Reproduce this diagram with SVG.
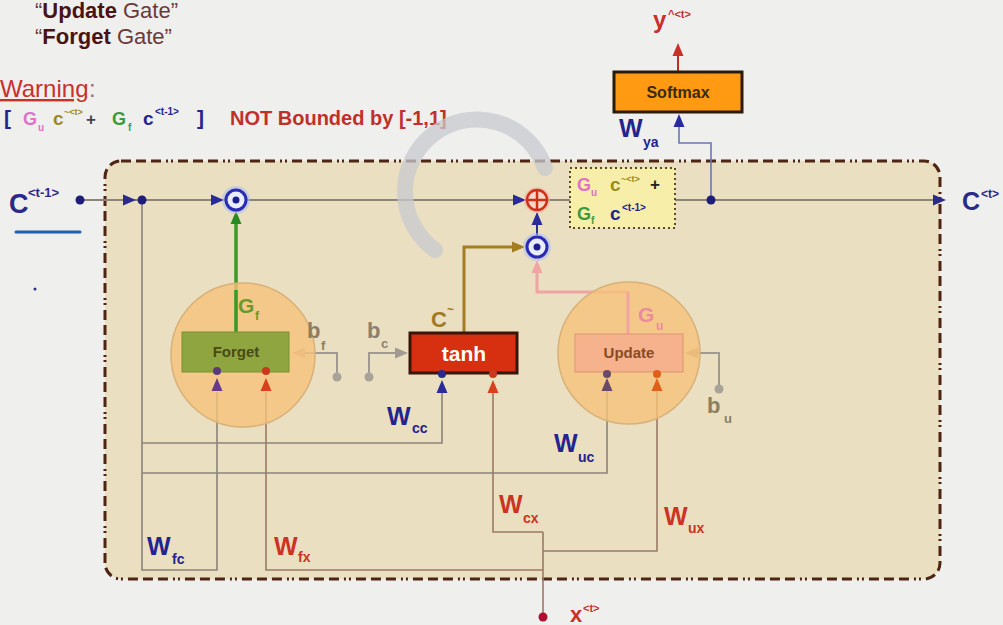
<svg xmlns="http://www.w3.org/2000/svg" width="1003" height="625" viewBox="0 0 1003 625">
<defs>
<style>
text{font-family:"Liberation Sans",Arial,sans-serif}
.b{font-weight:bold}
.W{font-size:25px;font-weight:bold}
.s{font-size:14px;font-weight:bold}
.blue{fill:#24248f}
.red{fill:#cc3322}
.gl{fill:none;stroke:#8a8478;stroke-width:1.6}
.xl{fill:none;stroke:#9c7a66;stroke-width:1.6}
.bl{fill:none;stroke:#a09a90;stroke-width:2}
.gate{font-size:15px;font-weight:bold;text-anchor:middle}
</style>
<path id="au" d="M0,0 L-5.5,13 L5.5,13 Z"/>
<path id="ar" d="M0,0 L-13,-5.5 L-13,5.5 Z"/>
<path id="al" d="M0,0 L13,-5.5 L13,5.5 Z"/>
</defs>
<rect width="1003" height="625" fill="#efefee"/>

<g id="header">
<text x="35" y="18" font-size="22" fill="#6a3a3a">“<tspan class="b" fill="#4a1212">Update</tspan> Gate”</text>
<text x="35" y="44" font-size="22" fill="#6a3a3a">“<tspan class="b" fill="#4a1212">Forget</tspan> Gate”</text>
<text x="0" y="97" font-size="24" fill="#c8302a" text-decoration="underline">Warning</text>
<text x="89" y="97" font-size="24" fill="#9a7070">:</text>
<text x="4" y="125" font-size="21" class="b blue">[</text>
<text x="23" y="125" font-size="18" class="b" fill="#e070c8">G</text>
<text x="38" y="131" font-size="10" class="b" fill="#e070c8">u</text>
<text x="53" y="125" font-size="19" class="b" fill="#9a8a20">c</text>
<text x="64" y="115" font-size="9" class="b" fill="#9a8a20">~&lt;t&gt;</text>
<text x="86" y="125" font-size="17" class="b" fill="#444">+</text>
<text x="112" y="125" font-size="18" class="b" fill="#3a9a3a">G</text>
<text x="128" y="131" font-size="10" class="b" fill="#3a9a3a">f</text>
<text x="143" y="125" font-size="19" class="b blue">c</text>
<text x="155" y="115" font-size="10" class="b blue">&lt;t-1&gt;</text>
<text x="197" y="125" font-size="21" class="b blue">]</text>
<text x="230" y="125" font-size="20" class="b" fill="#c0302a">NOT Bounded by [-1,1]</text>
</g>

<rect id="cell" x="105" y="161" width="835" height="418" rx="16" fill="#eadfc1" stroke="#4e2412" stroke-width="3" stroke-dasharray="10 5 10 5 10 5 2 3 2 5"/>

<g id="connectors">
<path d="M80,200 H936" fill="none" stroke="#8c8478" stroke-width="2"/>
<path class="gl" d="M217,392 V570 H142 V200"/>
<path class="gl" d="M442,392 V443 H142"/>
<path class="gl" d="M607,389 V473 H142"/>
<path class="xl" d="M266,392 V570 H543"/>
<path class="xl" d="M493,392 V532 H543"/>
<path class="xl" d="M657,389 V551 H543"/>
<path class="xl" d="M543,532 V617"/>
<path d="M236,332 V222" fill="none" stroke="#3a9a28" stroke-width="3.5"/>
<use href="#au" x="236" y="211" fill="#2a8a22"/>
<path d="M464,332 V247 H516" fill="none" stroke="#a47c22" stroke-width="3"/>
<use href="#ar" x="525" y="247" fill="#a47c22"/>
<path d="M628,334 V292 H537 V268" fill="none" stroke="#f0a4a4" stroke-width="3"/>
<use href="#au" x="537" y="260" fill="#f0a4a4"/>
<path d="M537,235 V220" fill="none" stroke="#2a2a9a" stroke-width="2"/>
<use href="#au" x="537" y="212" fill="#2a2a9a"/>
<path class="bl" d="M337,377 V353 H300" stroke="#d0a888"/>
<use href="#al" x="292" y="353" fill="#d0a888"/>
<path class="bl" d="M369,377 V353 H398"/>
<use href="#ar" x="408" y="353" fill="#a09a90"/>
<path class="bl" d="M719,389 V353 H694" stroke="#b0a070"/>
<use href="#al" x="685" y="353" fill="#b0a070"/>
<path d="M711,200 V143 H679 V124" fill="none" stroke="#6a7aa8" stroke-width="1.6"/>
<use href="#au" x="679" y="114" fill="#2a2aa0"/>
<path d="M678,72 V54" fill="none" stroke="#c03020" stroke-width="2"/>
<use href="#au" x="678" y="43" fill="#c8302a"/>
<use href="#ar" x="136" y="200" fill="#2a2a8a"/>
<use href="#ar" x="224" y="200" fill="#2a2a9a"/>
<use href="#ar" x="526" y="200" fill="#2a2a9a"/>
<use href="#ar" x="946" y="200" fill="#2a2a8a"/>
<circle cx="80" cy="200" r="4.5" fill="#1e1e7a"/>
<circle cx="142" cy="200" r="4.5" fill="#1e1e7a"/>
<circle cx="711" cy="200" r="4.5" fill="#1e1e7a"/>
<circle cx="543" cy="617" r="4.5" fill="#b01030"/>
</g>

<g id="left-labels">
<text x="9" y="213" font-size="27" class="b" fill="#2a2a8a">C</text>
<text x="28" y="197" font-size="13" class="b" fill="#2a2a8a">&lt;t-1&gt;</text>
<path d="M16,232 H80" stroke="#1f5fb0" stroke-width="3" stroke-linecap="round"/>
<circle cx="35" cy="289" r="1.5" fill="#2a2a8a"/>
<text x="962" y="210" font-size="25" class="b" fill="#2a2a8a">C</text>
<text x="981" y="198" font-size="12" class="b" fill="#2a2a8a">&lt;t&gt;</text>
</g>

<g id="forget">
<circle cx="243" cy="355" r="72" fill="#f6c27a" fill-opacity="0.8" stroke="#d8b078" stroke-width="1.5"/>
<path d="M236,332 V290" fill="none" stroke="#3a9a28" stroke-width="3.5"/>
<rect x="182" y="332" width="107" height="40" fill="#8ea540" stroke="#7a9030"/>
<text class="gate" x="236" y="357" fill="#4a4a14">Forget</text>
<text x="238" y="313" font-size="21" class="b" fill="#6a9a2a">G</text>
<text x="255" y="320" font-size="12" class="b" fill="#6a9a2a">f</text>
<circle cx="217" cy="371" r="4" fill="#5a3a7a"/>
<use href="#au" x="217" y="378" fill="#6a3a8a"/>
<circle cx="266" cy="371" r="4" fill="#c83a1a"/>
<use href="#au" x="266" y="378" fill="#d8401e"/>
<text x="307" y="338" font-size="22" class="b" fill="#8a8060">b</text>
<text x="321" y="350" font-size="13" class="b" fill="#8a8060">f</text>
<circle cx="337" cy="377" r="4.5" fill="#a8a298"/>
</g>

<g id="tanh">
<rect x="410" y="333" width="107" height="40" fill="#d63010" stroke="#3a150a" stroke-width="3"/>
<text x="464" y="361" font-size="21" class="b" fill="#fff" text-anchor="middle">tanh</text>
<text x="431" y="327" font-size="22" class="b" fill="#a07a22">C</text>
<text x="447" y="314" font-size="12" class="b" fill="#a07a22">~</text>
<circle cx="442" cy="374" r="4" fill="#2a2a8a"/>
<use href="#au" x="442" y="380" fill="#2a2a9a"/>
<circle cx="493" cy="374" r="4" fill="#c83a1a"/>
<use href="#au" x="493" y="380" fill="#d8401e"/>
<text x="367" y="338" font-size="22" class="b" fill="#8a8070">b</text>
<text x="381" y="348" font-size="13" class="b" fill="#8a8070">c</text>
<circle cx="369" cy="377" r="4.5" fill="#a8a298"/>
</g>

<g id="update">
<circle cx="629" cy="353" r="71" fill="#f6c27a" fill-opacity="0.8" stroke="#d8b078" stroke-width="1.5"/>
<path d="M628,334 V292" fill="none" stroke="#f0a4a4" stroke-width="3"/>
<rect x="575" y="334" width="108" height="38" fill="#f6b28c" stroke="#e09272"/>
<text class="gate" x="629" y="358" fill="#8a4a26">Update</text>
<text x="638" y="322" font-size="21" class="b" fill="#ec8aa0">G</text>
<text x="656" y="330" font-size="12" class="b" fill="#ec8aa0">u</text>
<circle cx="607" cy="374" r="4" fill="#6a4a6a"/>
<use href="#au" x="607" y="378" fill="#6a4a6a"/>
<circle cx="657" cy="374" r="4" fill="#e0601a"/>
<use href="#au" x="657" y="378" fill="#e0601a"/>
<circle cx="719" cy="389" r="4.5" fill="#a8a298"/>
<text x="707" y="413" font-size="22" class="b" fill="#8a8060">b</text>
<text x="724" y="423" font-size="13" class="b" fill="#8a8060">u</text>
</g>

<g id="mult-forget">
<circle cx="236" cy="200" r="14" fill="#a8c0f4" fill-opacity="0.55"/>
<circle cx="236" cy="200" r="10" fill="#e8eeff" stroke="#2a2ab4" stroke-width="3"/>
<circle cx="236" cy="200" r="3.5" fill="#1e1e8a"/>
</g>

<g id="mult-update">
<circle cx="537" cy="247" r="14" fill="#a8c0f4" fill-opacity="0.55"/>
<circle cx="537" cy="247" r="10" fill="#e8eeff" stroke="#2a2ab4" stroke-width="3"/>
<circle cx="537" cy="247" r="3.5" fill="#1e1e8a"/>
</g>

<g id="add">
<circle cx="537" cy="200" r="13" fill="#f4b0a0" fill-opacity="0.6"/>
<circle cx="537" cy="200" r="10" fill="#f8d8c8" stroke="#d0301a" stroke-width="2.5"/>
<path d="M527,200 H547 M537,190 V210" stroke="#d0301a" stroke-width="2.5"/>
</g>

<g id="sum-box">
<rect x="570" y="168" width="105" height="60" fill="#f7eeaa" stroke="#5a4a2a" stroke-width="2" stroke-dasharray="2 3"/>
<text x="577" y="191" font-size="18" class="b" fill="#e070c8">G</text>
<text x="591" y="196" font-size="10" class="b" fill="#e070c8">u</text>
<text x="610" y="191" font-size="19" class="b" fill="#9a8a20">c</text>
<text x="621" y="182" font-size="9" class="b" fill="#9a8a20">~&lt;t&gt;</text>
<text x="650" y="190" font-size="17" class="b" fill="#222">+</text>
<text x="577" y="220" font-size="18" class="b" fill="#3a9a3a">G</text>
<text x="591" y="224" font-size="10" class="b" fill="#3a9a3a">f</text>
<text x="610" y="220" font-size="19" class="b blue">c</text>
<text x="622" y="211" font-size="10" class="b blue">&lt;t-1&gt;</text>
</g>

<g id="softmax">
<rect x="614" y="72" width="128" height="40" fill="#ff9a12" stroke="#2a1a0a" stroke-width="3"/>
<text x="678" y="98" font-size="16" class="b" fill="#3a2a0a" text-anchor="middle">Softmax</text>
<text x="653" y="28" font-size="24" class="b" fill="#c8302a">y</text>
<text x="668" y="18" font-size="11" class="b" fill="#c8302a">^&lt;t&gt;</text>
</g>

<g id="weights">
<text x="147" y="555" class="W blue">W</text><text x="172" y="564" class="s blue">fc</text>
<text x="274" y="555" class="W red">W</text><text x="298" y="562" class="s red">fx</text>
<text x="387" y="425" class="W blue">W</text><text x="412" y="433" class="s blue">cc</text>
<text x="554" y="452" class="W blue">W</text><text x="578" y="462" class="s blue">uc</text>
<text x="499" y="513" class="W red">W</text><text x="523" y="523" class="s red">cx</text>
<text x="664" y="525" class="W red">W</text><text x="688" y="533" class="s red">ux</text>
<text x="619" y="137" class="W blue">W</text><text x="643" y="147" class="s blue">ya</text>
<text x="570" y="622" font-size="22" class="b" fill="#c8302a">x</text>
<text x="583" y="612" font-size="11" class="b" fill="#c8302a">&lt;t&gt;</text>
</g>

<path id="arc" d="M545,168 A72,72 0 1 0 435,250" fill="none" stroke="#c8cacf" stroke-opacity="0.75" stroke-width="16" stroke-linecap="round"/>
</svg>
